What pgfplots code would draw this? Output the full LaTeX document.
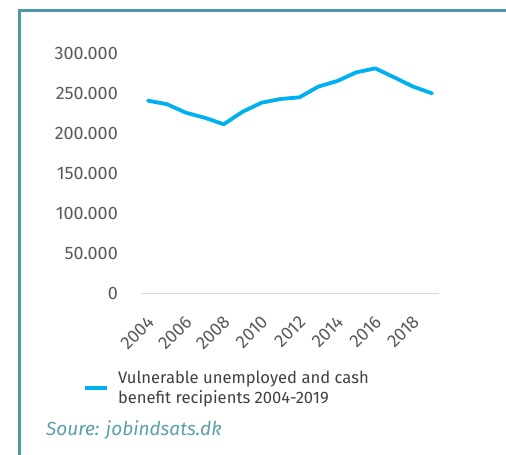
\documentclass[border=0pt]{standalone}
\usepackage{pgfplots}
\pgfplotsset{compat=1.18}
\usepackage{fontspec}
\setmainfont{Fira Sans}
\definecolor{frame}{HTML}{4E98A5}
\definecolor{srccol}{HTML}{5A9FAC}
\definecolor{lineblue}{HTML}{00B0F0}
\definecolor{ticktext}{HTML}{595959}
\definecolor{legtext}{HTML}{404040}
\definecolor{axisgray}{HTML}{D9D9D9}
\begin{document}
\begin{tikzpicture}
\path[use as bounding box] (0,0) rectangle (506bp,455bp);
\draw[frame, line width=2.2bp] (19.5bp,0) -- (19.5bp,444.5bp) -- (506bp,444.5bp);
\begin{axis}[
	scale only axis,
	anchor=south west,
	at={(141bp,162bp)},
	width=298bp, height=240bp,
	xmin=2003.63, xmax=2019.37,
	ymin=0, ymax=300000,
	scaled y ticks=false,
	clip=false,
	axis x line*=bottom,
	axis y line*=left,
	x axis line style={draw=axisgray, line width=0.8bp, -},
	y axis line style={draw=none},
	major tick length=0pt,
	xtick={2004,2006,...,2018},
	xticklabels={2004,2006,2008,2010,2012,2014,2016,2018},
	ytick={0,50000,...,300000},
	yticklabels={0,50.000,100.000,150.000,200.000,250.000,300.000},
	tick label style={font=\fontsize{18bp}{20bp}\selectfont, text=ticktext, inner sep=0pt},
	yticklabel style={anchor=east, xshift=-23bp},
	xticklabel style={xshift=3bp, yshift=-26bp, rotate=45, anchor=east},
	legend style={draw=none, fill=none, inner sep=0pt,
		at={(axis description cs:-0.1946,-0.395)}, anchor=west,
		font=\fontsize{16.6bp}{20.5bp}\selectfont, text=legtext,
		column sep=9bp, nodes={inner sep=0pt, align=left}},
	legend cell align=left,
	legend image code/.code={\draw[#1, line cap=butt] (0bp,0bp) -- (22bp,0bp);},
]
\addplot[lineblue, line width=3.8bp, line join=round, line cap=round] coordinates {
	(2004,240400) (2005,236000) (2006,225400) (2007,219000)
	(2008,211000) (2009,226600) (2010,237900) (2011,242500)
	(2012,244600) (2013,258000) (2014,265000) (2015,275800)
	(2016,280800) (2017,269600) (2018,258000) (2019,249600)
};
\addlegendentry{Vulnerable unemployed and cash\\benefit recipients 2004-2019}
\end{axis}
\node[anchor=west, inner sep=0pt, text=srccol, font=\fontsize{19bp}{21bp}\selectfont\itshape] at (46bp,25bp) {Soure: jobindsats.dk};
\end{tikzpicture}
\end{document}
